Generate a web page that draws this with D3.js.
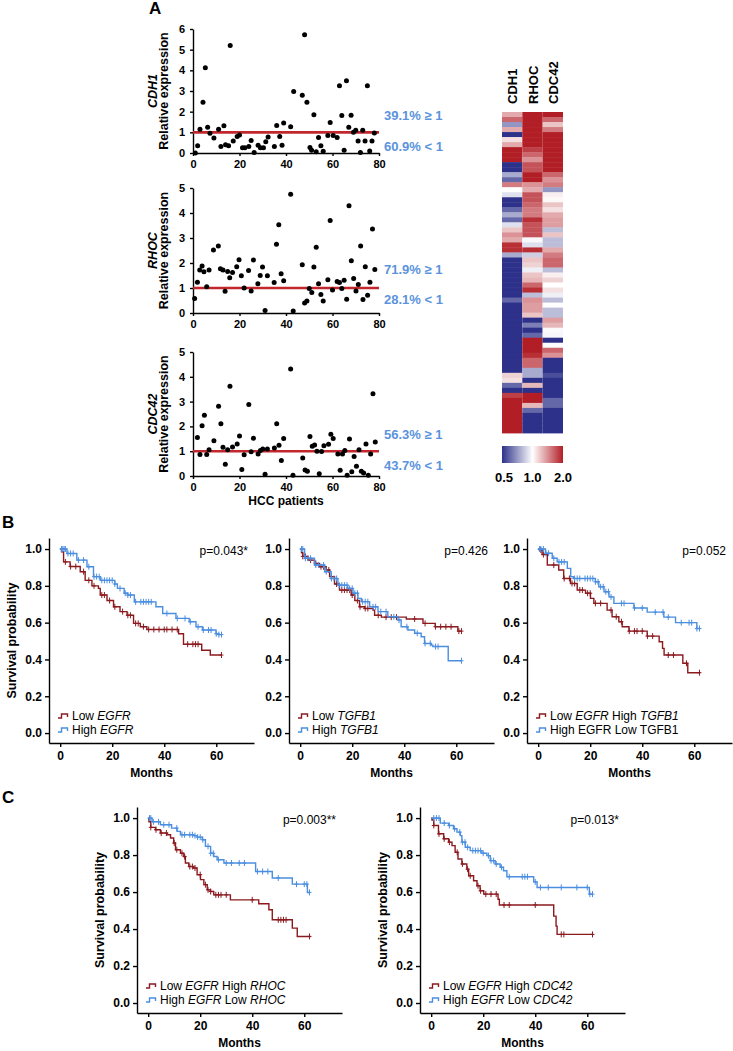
<!DOCTYPE html>
<html>
<head>
<meta charset="utf-8">
<script src="https://d3js.org/d3.v7.min.js"></script>
<style>
  body { margin: 0; background: #fff; }
  svg { font-family: "Liberation Sans", Arial, sans-serif; }
  .ax path, .ax line { stroke: #000; stroke-width: 1.4; }
  .ax text { font-weight: bold; fill: #000; font-family: "Liberation Sans", Arial, sans-serif; }
</style>
</head>
<body>
<script>
// ---------- panel A: scatter data [patient, relative expression] ----------
var cdh1Pts = [[1,0],[2,0.35],[3,1.15],[4.3,2.45],[5.3,4.13],[6.3,1.25],[7.3,0.95],[9,0.72],[11,1.15],[12,0.32],
  [13.3,1.32],[14,0.4],[15.3,0.35],[16,5.2],[17.3,0.58],[19,0.8],[20,0.87],[21.3,0.26],[22.3,0.26],[24,0.32],
  [25,0.6],[26.3,0.03],[28,0.38],[29,0.26],[30.3,0.26],[31.3,0.55],[32.3,0.77],[35,0.32],[36,1.33],[37.3,0.8],
  [38.3,0.38],[39,1.45],[42,1.27],[43.3,2.97],[47,2.8],[48,5.72],[49,2.45],[50.3,0.27],[51,0.13],[52,1.85],
  [53,0.06],[54,0.75],[55,0.35],[56,0.08],[58,0.85],[59,1.48],[60.3,0.85],[62,0.75],[63,3.26],[64,1.82],
  [65,0.13],[66,3.49],[67,1.25],[68,1.83],[69,1.0],[70,1.1],[71,0.58],[72,0.03],[73,1.1],[74,0.58],
  [75,3.26],[76,0.1],[77,0.58],[78,0.97]];
var rhocPts = [[0.7,0.58],[1.9,1.23],[2.9,1.72],[3.9,1.88],[4.7,1.65],[5.9,1.05],[6.9,1.72],[8.8,2.52],[10.9,2.68],[11.8,1.77],
  [12.9,1.72],[13.8,0.87],[14.9,1.66],[15.8,1.41],[17,1.62],[18.8,1.85],[19.8,2.13],[20.8,1.49],[22,1.0],[23.9,1.7],
  [25,0.88],[26,2.12],[27.9,1.17],[28.9,1.5],[29.9,1.84],[31,0.1],[32,1.49],[34.9,1.22],[35.9,2.75],[36.9,3.53],
  [37.9,1.57],[39,1.29],[42,4.75],[43.1,0.08],[47,1.93],[48,0.4],[49,0.48],[50,0.98],[51.1,0.82],[52,1.84],
  [53,2.63],[54,1.17],[55,0.74],[56,0.48],[58,1.33],[59,3.7],[60,0.92],[62,1.26],[63,1.22],[64,0.98],
  [65,1.31],[66.1,0.55],[67.1,4.29],[68.1,2.09],[69.1,1.38],[70.1,0.88],[71.1,1.14],[72.1,2.68],[73.1,0.54],[74.1,1.85],
  [75.1,0.71],[76.1,1.23],[77.2,3.36],[78.2,1.74]];
var cdc42Pts = [[1.9,1.55],[3,0.87],[3.9,2.03],[4.9,2.45],[5.9,0.87],[6.9,1.06],[9,1.42],[11,2.81],[12,2.11],[12.9,1.16],
  [13.9,0.47],[14.9,1.06],[15.9,3.62],[17,1.17],[19,1.29],[20,1.61],[21,0.26],[22,0.86],[24,2.88],[25,0.98],
  [26,1.52],[28,0.89],[29,1.03],[30,1.09],[31,0.07],[32,1.09],[35,1.13],[36,2.11],[37,1.24],[38,0.63],
  [39,1.51],[42,4.31],[43,0.03],[47.2,0.73],[48.2,0.24],[49.2,0.19],[50.3,1.59],[51.3,1.2],[52.3,1.25],[53.3,1.0],
  [54.3,0.09],[55.3,0.99],[56.3,1.22],[58.3,1.28],[59.3,1.68],[60.3,1.51],[62.3,0.89],[63.3,0.23],[64.3,0.89],[65.3,1.03],
  [66.3,0.03],[67.3,1.49],[68.3,0.17],[69.3,0.79],[70.3,0.39],[71.4,1.06],[72.4,0.19],[73.4,0.12],[74.4,1.29],[75.4,0.03],
  [76.4,0.89],[77.4,3.32],[78.4,1.37]];
var scatterGenes = ["CDH1", "RHOC", "CDC42"];
var pctHigh = ["39.1% \u2265 1", "71.9% \u2265 1", "56.3% \u2265 1"];
var pctLow = ["60.9% < 1", "28.1% < 1", "43.7% < 1"];
var patientTicks = [0, 20, 40, 60, 80];

// ---------- panel A: heatmap (one row per patient) ----------
var heatCols = ["CDH1", "RHOC", "CDC42"];
var heatCDH1 = [1.3,1.6,0.7,1.3,0.5,1.1,1.3,2,2,2, 0.5,0.5,0.75,0.6,1.5,1.0,0.9,0.5,0.5,0.6,
  0.75,0.6,0.9,1.2,1.4,1.3,1.9,1.9,0.75,0.5, 0.5,0.5,0.5,0.5,0.5,0.5,0.5,0.6,0.5,0.5,
  0.5,0.5,0.5,0.5,0.5,0.5,0.5,0.5,0.5,0.5, 0.5,0.5,1.15,1.1,0.6,0.5,1.8,2,2,2, 2,2,2,2];
var heatRHOC = [2,2,2,2,2,2,2,1.8,1.6,1.4, 1.7,1.7,2,2,1.4,1.3,1.7,1.7,1.6,1.5,
  1.5,1.9,1.7,1.7,1.7,0.98,0.9,1.9,0.85,1.2, 1.15,0.95,1.2,1.25,1.6,1.9,0.8,1.4,1.35,1.35,
  1.2,0.5,0.65,0.5,0.6,2,2,2,1.9,1.6, 1.6,0.75,0.75,0.5,1.25,0.5,2,2,1.25,0.6, 0.5,0.5,0.5,0.5];
var heatCDC42 = [2,1.6,1.2,1.5,2,2,2,2,2,2, 2,2,1.6,1.4,1.5,0.7,1.05,1.02,1.2,1.1,
  1.3,1.35,1.35,0.8,1.2,0.8,0.8,1.3,1.5,1.6, 1.6,0.8,1.05,1.15,1.0,1.1,0.95,0.8,1.0,0.8,
  0.8,1.35,1.25,0.98,0.97,0.5,0.99,1.6,1.4,0.5, 0.5,0.5,0.55,0.5,0.5,0.5,0.5,0.6,0.6,0.5, 0.5,0.5,0.5,0.5];
var legendTicks = [0.5, 1, 2];

// ---------- panels B/C: Kaplan-Meier steps [month, survival] and censor months ----------
var lowEgfr = [[0,1],[0.5,0.985],[1.3,0.93],[3.8,0.905],[7.7,0.877],[9.6,0.83],[12.2,0.8],[14.7,0.786],[15.4,0.75],[18,0.72],
  [20.5,0.686],[23,0.66],[25.7,0.64],[28.2,0.596],[30.8,0.578],[33.3,0.563],[45.5,0.54],[47.4,0.483],[54.4,0.45],[57.7,0.424],[62,0.424]];
var lowEgfrCens = [2,4,6,9,11,13,16,17,19,21,24,26,27,29,30,32,34,36,38,40,41,43,45,49,51,52,53,62];
var highEgfr = [[0,1],[2.6,0.976],[6.4,0.94],[10.3,0.904],[12.8,0.85],[15.4,0.83],[21,0.81],[22,0.786],[24.6,0.76],[26,0.75],
  [28.5,0.713],[36.8,0.686],[39.4,0.65],[44.5,0.623],[49.6,0.605],[52.2,0.578],[54.7,0.56],[59.9,0.54],[61,0.535],[62,0.535]];
var highEgfrCens = [0.5,1,1.5,2,3,4,5,7,9,11,13,14,15,16,17,18,19,20,21,23,25,26,27,29,31,32,33,34,35,41,45,48,50,53,55,57,58,60,61,62];

var lowTgfb1 = [[0,1],[0.5,0.98],[1,0.96],[3,0.94],[5.5,0.922],[7.4,0.904],[10,0.886],[11.3,0.85],[13.2,0.81],[15.1,0.777],
  [19.6,0.75],[21,0.72],[22.8,0.686],[24.7,0.677],[28,0.668],[28.6,0.64],[31.2,0.63],[40.8,0.62],[47.2,0.596],[51.9,0.578],[60.6,0.554],[61.7,0.554]];
var lowTgfb1Cens = [1,2,4,6,8,9,11,12,14,16,17,18,19,20,22,23,25,26,30,33,35,37,44,48,52,54,56,58,61,62];
var highTgfb1 = [[0,1],[1.7,0.95],[5.5,0.913],[9.4,0.877],[11.9,0.84],[14.5,0.804],[18.3,0.786],[20.3,0.76],[22.2,0.732],[23.5,0.714],
  [26.7,0.686],[29.9,0.66],[33.7,0.632],[37.6,0.614],[38.8,0.578],[41.4,0.56],[44,0.542],[46.5,0.523],[47.8,0.487],[50.4,0.478],[51,0.47],[56.9,0.393],[61.9,0.393]];
var highTgfb1Cens = [0.5,1,2,3,4,6,7,9,10,12,13,14,15,16,17,18,19,20,21,22,24,25,26,28,29,31,33,36,38,41,45,48,50,52,53,62];

var lowEgfrHighTgfb1 = [[0,1],[0.5,0.995],[1.5,0.97],[3.5,0.913],[7.9,0.886],[9.8,0.84],[12.4,0.813],[15,0.777],[18.2,0.76],[20.1,0.732],
  [21.4,0.705],[26.5,0.668],[28.4,0.632],[31,0.605],[32.3,0.578],[34.9,0.554],[41.9,0.527],[46.5,0.496],[47.8,0.46],[48.4,0.424],[55.6,0.379],[57.5,0.328],[62.3,0.328]];
var lowEgfrHighTgfb1Cens = [1,2,6,10,12,13,14,16,17,19,20,22,24,28,30,32,35,37,38,40,42,44,50,52,57,62];
var highEgfrLowTgfb1 = [[0,1],[2.8,0.977],[5.4,0.95],[7.3,0.93],[11.2,0.895],[12.5,0.85],[13.5,0.84],[22,0.822],[23.3,0.795],[25.3,0.768],
  [27.2,0.74],[29.1,0.705],[36.8,0.68],[41.9,0.657],[48.3,0.63],[52.8,0.6],[61,0.568],[61.8,0.568]];
var highEgfrLowTgfb1Cens = [0.5,1,2,3,4,6,8,9,10,14,15,16,18,19,20,21,22,23,24,25,26,27,28,32,33,37,40,45,48,50,55,58,59,61,62];

var lowEgfrHighRhoc = [[0,1],[0.3,0.98],[1,0.95],[2.8,0.937],[4.7,0.919],[7.3,0.91],[8.6,0.892],[9.8,0.865],[10.5,0.829],[12.4,0.81],
  [13.7,0.792],[14.3,0.757],[15.6,0.738],[17.5,0.73],[18.8,0.694],[20.1,0.667],[21.4,0.64],[22.7,0.612],[24,0.603],[25.2,0.585],
  [31.6,0.558],[42.5,0.537],[46.4,0.504],[47.7,0.45],[55.4,0.405],[57.3,0.36],[62.4,0.36]];
var lowEgfrHighRhocCens = [1,3,5,7,10,11,13,14,16,17,18,20,22,23,24,26,27,28,30,40,50,51,52,53,62];
var highEgfrLowRhoc = [[0,1],[1.5,0.98],[4.7,0.964],[9,0.946],[11.1,0.928],[12.4,0.91],[17.5,0.905],[18.8,0.897],[20.8,0.883],[22,0.847],
  [24,0.81],[25.2,0.792],[26.5,0.775],[29.1,0.757],[41.3,0.711],[47.7,0.676],[55.4,0.643],[61.2,0.598],[62,0.598]];
var highEgfrLowRhocCens = [0.5,1,2,4,6,8,11,13,14,16,17,18,19,20,21,23,24,25,27,30,32,35,37,42,44,46,50,57,60,61,62];

var lowEgfrHighCdc42 = [[0,1],[0.3,0.99],[1,0.96],[2.8,0.915],[4.8,0.888],[6.7,0.87],[8,0.851],[9.2,0.815],[10.3,0.779],[11.8,0.752],
  [13.7,0.724],[14.4,0.688],[16.3,0.661],[17.6,0.634],[18.8,0.607],[20.2,0.589],[25.7,0.561],[26.2,0.53],[47.1,0.47],[48,0.416],[48.4,0.371],[62.4,0.371]];
var lowEgfrHighCdc42Cens = [1,3,5,7,10,12,14,15,18,19,21,23,25,28,30,40,50,51,62];
var highEgfrLowCdc42 = [[0,1],[3.5,0.973],[6.7,0.96],[8.6,0.942],[9.9,0.924],[11.2,0.905],[11.8,0.87],[13.1,0.842],[15,0.824],[19.5,0.81],
  [21.4,0.797],[22.7,0.77],[24.6,0.752],[26.5,0.734],[27.8,0.715],[29.1,0.683],[39.4,0.655],[40.7,0.625],[60.8,0.589],[62,0.589]];
var highEgfrLowCdc42Cens = [1,2,3,5,7,9,11,12,13,14,16,17,18,19,20,22,23,24,25,27,30,35,36,37,40,42,45,50,56,60,61,62];

var pValues = ["p=0.043*", "p=0.426", "p=0.052", "p=0.003**", "p=0.013*"];
var survTicks = [0, 0.2, 0.4, 0.6, 0.8, 1.0];
var monthTicks = [0, 20, 40, 60];

var RED = "#8b1a1f", BLUE = "#4b8ee0", PCT = "#5b93dd", LINE = "#c1272d";

var svg = d3.select("body").append("svg").attr("width", 733).attr("height", 1051);

// panel letters
[["A", 149, 14], ["B", 2, 528], ["C", 2, 803]].forEach(function(l) {
  svg.append("text").attr("x", l[1]).attr("y", l[2]).text(l[0])
    .style("font-size", "17px").style("font-weight", "bold");
});

// ---------- scatter plots ----------
var sx = d3.scaleLinear().domain([0, 80]).range([193, 379]);
var scatterPanels = [
  {pts: cdh1Pts, max: 6, top: 29, bottom: 153, hiY: 120, loY: 151},
  {pts: rhocPts, max: 5, top: 188, bottom: 313, hiY: 274, loY: 304},
  {pts: cdc42Pts, max: 5, top: 352, bottom: 476, hiY: 439, loY: 470}
];
scatterPanels.forEach(function(p, i) {
  var y = d3.scaleLinear().domain([0, p.max]).range([p.bottom, p.top]);
  var g = svg.append("g");
  g.append("g").attr("class", "ax").attr("transform", "translate(193,0)")
    .call(d3.axisLeft(y).ticks(p.max).tickFormat(d3.format("d")).tickSize(3).tickSizeOuter(0).tickPadding(5))
    .selectAll("text").style("font-size", "11px");
  g.append("g").attr("class", "ax").attr("transform", "translate(0," + p.bottom + ")")
    .call(d3.axisBottom(sx).tickValues(patientTicks).tickSize(3).tickSizeOuter(0).tickPadding(4))
    .selectAll("text").style("font-size", "11px");
  g.append("line").attr("x1", sx(0)).attr("x2", sx(80)).attr("y1", y(1)).attr("y2", y(1))
    .attr("stroke", LINE).attr("stroke-width", 2.6);
  g.selectAll("circle").data(p.pts).enter().append("circle")
    .attr("cx", function(d) { return sx(d[0]); })
    .attr("cy", function(d) { return y(d[1]); })
    .attr("r", 2.5).attr("fill", "#000");
  var cy = (p.top + p.bottom) / 2;
  g.append("text").attr("transform", "translate(157," + cy + ") rotate(-90)")
    .attr("text-anchor", "middle").text(scatterGenes[i])
    .style("font-size", "12.5px").style("font-weight", "bold").style("font-style", "italic");
  g.append("text").attr("transform", "translate(168," + cy + ") rotate(-90)")
    .attr("text-anchor", "middle").text("Relative expression")
    .style("font-size", "12.5px").style("font-weight", "bold");
  g.append("text").attr("x", 384).attr("y", p.hiY).text(pctHigh[i])
    .attr("fill", PCT).style("font-size", "13px").style("font-weight", "bold");
  g.append("text").attr("x", 384).attr("y", p.loY).text(pctLow[i])
    .attr("fill", PCT).style("font-size", "13px").style("font-weight", "bold");
});
svg.append("text").attr("x", 286).attr("y", 505).attr("text-anchor", "middle").text("HCC patients")
  .style("font-size", "12px").style("font-weight", "bold");

// ---------- heatmap ----------
var heatData = [heatCDH1, heatRHOC, heatCDC42];
var hx = d3.scaleBand().domain(heatCols).range([502, 563]);
var hy = d3.scaleBand().domain(d3.range(heatCDH1.length)).range([112, 433]);
var heatScale = d3.scaleLinear().domain([-1, 0, 1]).range(["#2d3189", "#ffffff", "#b21e26"]).clamp(true);
function heatColor(v) { return heatScale(Math.log2(v)); }
heatCols.forEach(function(c, j) {
  svg.append("g").selectAll("rect").data(heatData[j]).enter().append("rect")
    .attr("x", hx(c)).attr("y", function(d, k) { return hy(k); })
    .attr("width", hx.bandwidth()).attr("height", hy.bandwidth() + 0.4)
    .attr("fill", function(d) { return heatColor(d); });
  svg.append("text")
    .attr("transform", "translate(" + (hx(c) + hx.bandwidth() / 2 + 5) + ",104) rotate(-90)")
    .text(c).style("font-size", "13px").style("font-weight", "bold");
});
var grad = svg.append("defs").append("linearGradient").attr("id", "hgrad");
[0, 0.25, 0.5, 0.75, 1].forEach(function(t) {
  grad.append("stop").attr("offset", t).attr("stop-color", heatScale(t * 2 - 1));
});
var lx = d3.scaleLog().base(2).domain([0.5, 2]).range([502, 563]);
svg.append("rect").attr("x", 502).attr("y", 446).attr("width", 61).attr("height", 17).attr("fill", "url(#hgrad)");
legendTicks.forEach(function(t) {
  svg.append("text").attr("x", lx(t) + (t === 0.5 ? 2 : 0)).attr("y", 482).attr("text-anchor", "middle")
    .text(d3.format(".1f")(t)).style("font-size", "13px").style("font-weight", "bold");
});

// ---------- Kaplan-Meier panels ----------
function survAt(steps, t) {
  var s = steps[0][1];
  steps.forEach(function(d) { if (d[0] <= t) s = d[1]; });
  return s;
}
var kmPanels = [
  {x0: 49, top: 538, bottom: 743, yTitle: true, low: lowEgfr, lowC: lowEgfrCens, high: highEgfr, highC: highEgfrCens,
   lowLab: [["Low ", 0], ["EGFR", 1]], highLab: [["High ", 0], ["EGFR", 1]]},
  {x0: 289, top: 538, bottom: 743, yTitle: false, low: lowTgfb1, lowC: lowTgfb1Cens, high: highTgfb1, highC: highTgfb1Cens,
   lowLab: [["Low ", 0], ["TGFB1", 1]], highLab: [["High ", 0], ["TGFB1", 1]]},
  {x0: 527, top: 538, bottom: 743, yTitle: false, low: lowEgfrHighTgfb1, lowC: lowEgfrHighTgfb1Cens, high: highEgfrLowTgfb1, highC: highEgfrLowTgfb1Cens,
   lowLab: [["Low ", 0], ["EGFR", 1], [" High ", 0], ["TGFB1", 1]], highLab: [["High EGFR Low TGFB1", 0]]},
  {x0: 137, top: 807, bottom: 1013, yTitle: true, low: lowEgfrHighRhoc, lowC: lowEgfrHighRhocCens, high: highEgfrLowRhoc, highC: highEgfrLowRhocCens,
   lowLab: [["Low ", 0], ["EGFR", 1], [" High ", 0], ["RHOC", 1]], highLab: [["High ", 0], ["EGFR", 1], [" Low ", 0], ["RHOC", 1]]},
  {x0: 420, top: 807, bottom: 1013, yTitle: true, low: lowEgfrHighCdc42, lowC: lowEgfrHighCdc42Cens, high: highEgfrLowCdc42, highC: highEgfrLowCdc42Cens,
   lowLab: [["Low ", 0], ["EGFR", 1], [" High ", 0], ["CDC42", 1]], highLab: [["High ", 0], ["EGFR", 1], [" Low ", 0], ["CDC42", 1]]}
];

kmPanels.forEach(function(p, i) {
  var x = d3.scaleLinear().domain([-4.3, 74.5]).range([p.x0, p.x0 + 205]);
  var y = d3.scaleLinear().domain([-0.054, 1.06]).range([p.bottom, p.top]);
  var g = svg.append("g");
  g.append("g").attr("class", "ax").attr("transform", "translate(" + p.x0 + ",0)")
    .call(d3.axisLeft(y).tickValues(survTicks).tickFormat(d3.format(".1f")).tickSize(4).tickSizeOuter(0).tickPadding(3))
    .selectAll("text").style("font-size", "12px");
  g.append("g").attr("class", "ax").attr("transform", "translate(0," + p.bottom + ")")
    .call(d3.axisBottom(x).tickValues(monthTicks).tickSize(4).tickSizeOuter(0).tickPadding(4))
    .selectAll("text").style("font-size", "12px");

  var line = d3.line().x(function(d) { return x(d[0]); }).y(function(d) { return y(d[1]); }).curve(d3.curveStepAfter);
  [[p.low, p.lowC, RED], [p.high, p.highC, BLUE]].forEach(function(c) {
    g.append("path").attr("d", line(c[0])).attr("fill", "none").attr("stroke", c[2]).attr("stroke-width", 1.4);
    c[1].forEach(function(t) {
      var cx = x(t), cy = y(survAt(c[0], t));
      g.append("path").attr("d", "M" + cx + "," + (cy - 3) + "V" + (cy + 3) + "M" + (cx - 2) + "," + cy + "H" + (cx + 2))
        .attr("stroke", c[2]).attr("stroke-width", 1);
    });
  });

  g.append("text").attr("x", p.x0 + 199).attr("y", p.top + 17).attr("text-anchor", "end")
    .text(pValues[i]).style("font-size", "12px");

  [[p.lowLab, RED, p.bottom - 27], [p.highLab, BLUE, p.bottom - 13]].forEach(function(l) {
    var ix = p.x0 + 9, iy = l[2];
    g.append("path").attr("d", "M" + ix + "," + (iy + 2) + "h3.5v-4h6v3")
      .attr("fill", "none").attr("stroke", l[1]).attr("stroke-width", 1.4);
    var t = g.append("text").attr("x", p.x0 + 23).attr("y", iy + 4).style("font-size", "12px");
    l[0].forEach(function(s) {
      t.append("tspan").text(s[0]).style("font-style", s[1] ? "italic" : "normal");
    });
  });

  g.append("text").attr("x", (p.x0 + p.x0 + 205) / 2).attr("y", p.bottom + 34).attr("text-anchor", "middle")
    .text("Months").style("font-size", "12px").style("font-weight", "bold");
  if (p.yTitle) {
    g.append("text").attr("transform", "translate(" + (p.x0 - 33) + "," + ((p.top + p.bottom) / 2) + ") rotate(-90)")
      .attr("text-anchor", "middle").text("Survival probability")
      .style("font-size", "12.5px").style("font-weight", "bold");
  }
});
</script>
</body>
</html>
